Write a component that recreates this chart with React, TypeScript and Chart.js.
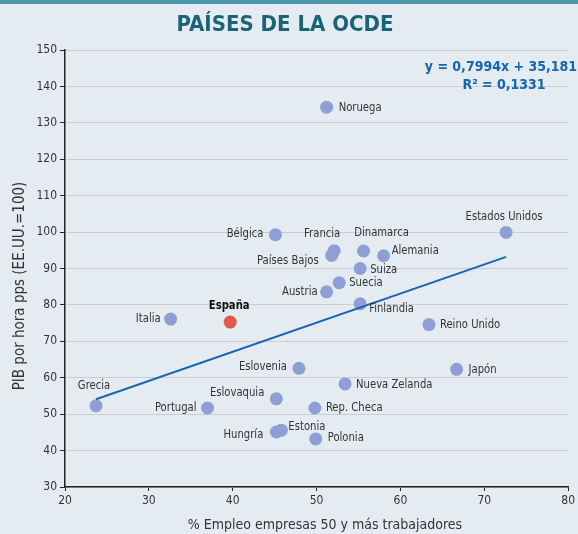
import React, { useEffect, useRef } from "react";
import { Chart, registerables } from "chart.js";

Chart.register(...registerables);

const countries = [
  "Noruega", "Estados Unidos", "Bélgica", "Francia", "Países Bajos", "Dinamarca",
  "Alemania", "Suiza", "Suecia", "Austria", "Finlandia", "Reino Unido", "Italia",
  "España", "Grecia", "Portugal", "Eslovaquia", "Eslovenia", "Nueva Zelanda",
  "Japón", "Rep. Checa", "Hungría", "Estonia", "Polonia",
];
const empleo = [
  51.2, 72.6, 45.1, 52.1, 51.8, 55.6, 58.0, 55.2, 52.7, 51.2, 55.2, 63.4, 32.6,
  39.7, 23.7, 37.0, 45.2, 47.9, 53.4, 66.7, 49.8, 45.2, 45.8, 49.9,
];
const pib = [
  134.3, 99.9, 99.3, 94.9, 93.6, 94.8, 93.5, 90.0, 86.1, 83.6, 80.3, 74.6, 76.1,
  75.3, 52.3, 51.7, 54.2, 62.6, 58.3, 62.3, 51.7, 45.1, 45.6, 43.2,
];
const trendX = [23.7, 72.6];
const trendY = [54.1, 93.2];
const xTicks = [20, 30, 40, 50, 60, 70, 80];
const yTicks = [30, 40, 50, 60, 70, 80, 90, 100, 110, 120, 130, 140, 150];

// label placement: [dx, dy, align]
const labelPos: [number, number, CanvasTextAlign][] = [
  [12, 0, "left"], [-2, -16, "center"], [-12, -1, "right"], [-12, -17, "center"],
  [-13, 5, "right"], [18, -18, "center"], [8, -5, "left"], [10, 1, "left"],
  [10, 0, "left"], [-9, 0, "right"], [9, 5, "left"], [11, 0, "left"],
  [-10, 0, "right"], [-1, -16, "center"], [-2, -20, "center"], [-11, 0, "right"],
  [-12, -6, "right"], [-12, -2, "right"], [11, 1, "left"], [12, 0, "left"],
  [11, 0, "left"], [-13, 3, "right"], [7, -4, "left"], [12, -1, "left"],
];

const NARROW = '"DejaVu Sans Condensed", sans-serif';
const SQUEEZE = 0.86;

const bgPlugin = {
  id: "bg",
  beforeDraw(chart: any) {
    const ctx = chart.ctx;
    ctx.save();
    ctx.fillStyle = "#e4ecf2";
    ctx.fillRect(0, 0, chart.width, chart.height);
    ctx.fillStyle = "#4b98ae";
    ctx.fillRect(0, 0, chart.width, 4);
    ctx.fillStyle = "#1b6378";
    ctx.font = 'bold 22px "DejaVu Sans Condensed", sans-serif';
    ctx.textAlign = "center";
    ctx.textBaseline = "middle";
    ctx.fillText("PAÍSES DE LA OCDE", 285, 25);
    ctx.restore();
  },
  afterDraw(chart: any) {
    const ctx = chart.ctx;
    ctx.save();
    ctx.fillStyle = "#1565b0";
    ctx.font = `bold 14px ${NARROW}`;
    ctx.textBaseline = "middle";
    ctx.textAlign = "right";
    ctx.fillText("y = 0,7994x + 35,181", 577, 67);
    ctx.textAlign = "center";
    ctx.fillText("R² = 0,1331", 504, 85);
    ctx.restore();

    ctx.save();
    ctx.fillStyle = "#333";
    ctx.font = `14px ${NARROW}`;
    ctx.textAlign = "center";
    ctx.textBaseline = "middle";
    ctx.fillText("% Empleo empresas 50 y más trabajadores", 325, 525);
    ctx.font = `15px ${NARROW}`;
    ctx.translate(20, 286);
    ctx.rotate(-Math.PI / 2);
    ctx.fillText("PIB por hora pps (EE.UU.=100)", 0, 0);
    ctx.restore();
  },
};

const labelPlugin = {
  id: "pointLabels",
  afterDatasetsDraw(chart: any) {
    const ctx = chart.ctx;
    const meta = chart.getDatasetMeta(1);
    meta.data.forEach((el: any, i: number) => {
      const [dx, dy, align] = labelPos[i];
      const isSpain = countries[i] === "España";
      ctx.save();
      ctx.textBaseline = "middle";
      ctx.font = `${isSpain ? "bold " : ""}13px ${NARROW}`;
      ctx.fillStyle = isSpain ? "#111" : "#333";
      ctx.textAlign = align;
      ctx.translate(el.x + dx, el.y + dy);
      ctx.scale(SQUEEZE, 1);
      ctx.fillText(countries[i], 0, 0);
      ctx.restore();
    });
  },
};

export default function App() {
  const ref = useRef<HTMLCanvasElement>(null);
  useEffect(() => {
    document.body.style.margin = "0";
    const chart = new Chart(ref.current!, {
      type: "scatter",
      data: {
        datasets: [
          {
            type: "line",
            data: trendX.map((x, i) => ({ x, y: trendY[i] })),
            borderColor: "#1a64b0",
            borderWidth: 2,
            pointRadius: 0,
            fill: false,
          } as any,
          {
            data: empleo.map((x, i) => ({ x, y: pib[i] })),
            pointRadius: 6.5,
            pointBackgroundColor: countries.map((c) => (c === "España" ? "#e05a4c" : "#8e9fd6")),
            pointBorderWidth: 0,
            borderWidth: 0,
          },
        ],
      },
      options: {
        animation: false,
        responsive: false,
        layout: { padding: { top: 50, right: 7, left: 0, bottom: 0 } },
        plugins: { legend: { display: false }, tooltip: { enabled: false } },
        scales: {
          x: {
            type: "linear",
            min: 20,
            max: 80,
            afterBuildTicks: (s: any) => { s.ticks = xTicks.map((v) => ({ value: v })); },
            afterFit: (s: any) => { s.height = 47; },
            grid: { drawOnChartArea: false, tickLength: 4, tickColor: "#222" },
            border: { color: "#222", width: 1.5 },
            ticks: { color: "#333", font: { family: NARROW, size: 12 }, padding: 3 },
          },
          y: {
            type: "linear",
            min: 30,
            max: 150,
            afterBuildTicks: (s: any) => { s.ticks = yTicks.map((v) => ({ value: v })); },
            afterFit: (s: any) => { s.width = 65; },
            grid: { color: "#c9ced2", lineWidth: 1, tickLength: 5, tickColor: "#222" },
            border: { color: "#222", width: 1.5 },
            ticks: { color: "#333", font: { family: NARROW, size: 12 }, padding: 3 },
          },
        },
      },
      plugins: [bgPlugin, labelPlugin],
    });
    return () => chart.destroy();
  }, []);
  return <canvas ref={ref} width={578} height={534} style={{ display: "block" }} />;
}
